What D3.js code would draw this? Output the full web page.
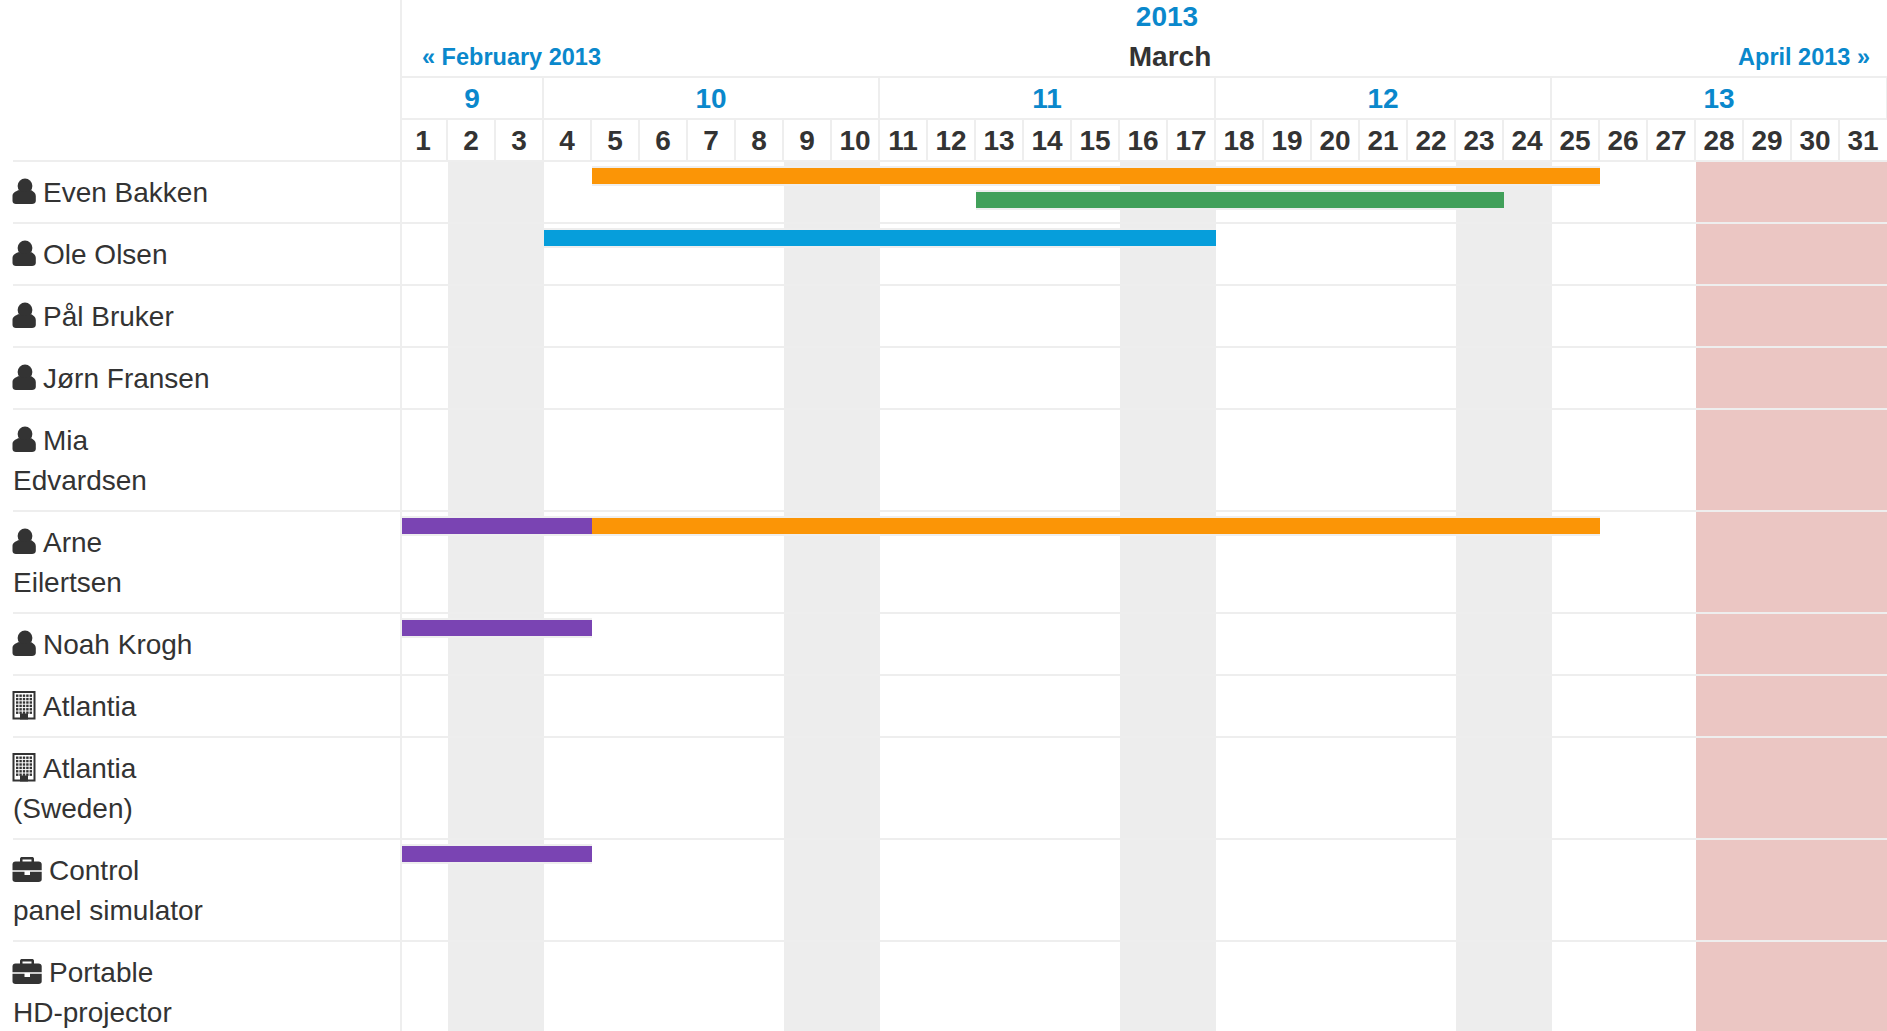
<!DOCTYPE html>
<html>
<head>
<meta charset="utf-8">
<title>Resource calendar</title>
<script src="https://cdn.jsdelivr.net/npm/d3@7"></script>
<style>
	html, body { margin: 0; padding: 0; background: #fff; overflow: hidden; }
	svg { display: block; }
	text { font-family: "Liberation Sans", Helvetica, Arial, sans-serif; fill: #333; }
	.bold { font-weight: bold; }
	.link { fill: #0a88cc; font-weight: bold; }
	.dayaxis text { font-size: 28px; font-weight: bold; font-family: "Liberation Sans", Arial, sans-serif; fill: #333; }
</style>
</head>
<body>
<svg id="chart"></svg>
<script>
// calendar
const year = '2013';
const monthName = 'March';
const prevMonth = '« February 2013';
const nextMonth = 'April 2013 »';
const days = d3.range(1, 32);
const weekNumbers = [9, 10, 11, 12, 13];
const weekFirstDay = [1, 4, 11, 18, 25];
const weekLastDay = [3, 10, 17, 24, 31];
const weekendDays = [2, 3, 9, 10, 16, 17, 23, 24];
const holidayDays = [28, 29, 30, 31];

// resources, one entry per row
const rowIcons = ['user', 'user', 'user', 'user', 'user', 'user', 'user', 'building', 'building', 'briefcase', 'briefcase'];
const rowLine1 = ['Even Bakken', 'Ole Olsen', 'Pål Bruker', 'Jørn Fransen', 'Mia', 'Arne', 'Noah Krogh', 'Atlantia', 'Atlantia', 'Control', 'Portable'];
const rowLine2 = ['', '', '', '', 'Edvardsen', 'Eilertsen', '', '', '(Sweden)', 'panel simulator', 'HD-projector'];

// bookings
const bookingRow = [0, 0, 1, 5, 5, 6, 9];
const bookingLane = [0, 1, 0, 0, 0, 0, 0];
const bookingStart = [5, 13, 4, 1, 5, 1, 1];
const bookingEnd = [25, 23, 17, 4, 25, 4, 4];
const bookingType = ['orange', 'green', 'blue', 'purple', 'orange', 'purple', 'purple'];

const width = 1887,
	height = 1031,
	headerBottom = 161,
	gridLeft = 400,
	labelLeft = 13,
	line = '#eeeeee';

const colour = d3.scaleOrdinal()
	.domain(['orange', 'green', 'blue', 'purple'])
	.range(['#fb9506', '#41a05a', '#069edb', '#7a44b3']);

const x = d3.scaleBand()
	.domain(days)
	.range([gridLeft, gridLeft + 48 * days.length]);

const rowTops = [headerBottom];
rowLine2.forEach((d, i) => rowTops.push(rowTops[i] + (d ? 102 : 62)));

const chart = d3.select('#chart').attr('width', width).attr('height', height);

// holiday and weekend columns
chart.append('g').selectAll('rect')
	.data(holidayDays)
	.enter().append('rect')
	.attr('x', d => x(d))
	.attr('y', headerBottom)
	.attr('width', x.bandwidth())
	.attr('height', height - headerBottom)
	.style('fill', '#ebc6c3');

chart.append('g').selectAll('rect')
	.data(weekendDays)
	.enter().append('rect')
	.attr('x', d => x(d))
	.attr('y', headerBottom)
	.attr('width', x.bandwidth())
	.attr('height', height - headerBottom)
	.style('fill', '#ededed');

// row lines
chart.append('g').selectAll('rect')
	.data(rowTops)
	.enter().append('rect')
	.attr('x', labelLeft)
	.attr('y', d => d - 1)
	.attr('width', width - labelLeft)
	.attr('height', 2)
	.style('fill', line);

// bars, with the 2px light edge above and below
const bars = chart.append('g').selectAll('g')
	.data(bookingRow.map((row, i) => i))
	.enter().append('g');

bars.append('rect')
	.attr('x', i => x(bookingStart[i]))
	.attr('y', i => rowTops[bookingRow[i]] + 5 + bookingLane[i] * 24)
	.attr('width', i => x(bookingEnd[i]) + x.bandwidth() - x(bookingStart[i]))
	.attr('height', 20)
	.style('fill', line);

bars.append('rect')
	.attr('x', i => x(bookingStart[i]))
	.attr('y', i => rowTops[bookingRow[i]] + 7 + bookingLane[i] * 24)
	.attr('width', i => x(bookingEnd[i]) + x.bandwidth() - x(bookingStart[i]))
	.attr('height', 16)
	.style('fill', i => colour(bookingType[i]));

// grid left edge
chart.append('rect')
	.attr('x', gridLeft)
	.attr('y', 0)
	.attr('width', 2)
	.attr('height', height)
	.style('fill', line);

// header rules
chart.append('g').selectAll('rect')
	.data([76, 118])
	.enter().append('rect')
	.attr('x', gridLeft)
	.attr('y', d => d)
	.attr('width', width - gridLeft)
	.attr('height', 2)
	.style('fill', line);

chart.append('g').selectAll('rect')
	.data(days.slice(1))
	.enter().append('rect')
	.attr('x', d => x(d) - 2)
	.attr('y', 120)
	.attr('width', 2)
	.attr('height', 40)
	.style('fill', line);

chart.append('g').selectAll('rect')
	.data(weekLastDay)
	.enter().append('rect')
	.attr('x', d => x(d) + x.bandwidth() - 2)
	.attr('y', 78)
	.attr('width', 2)
	.attr('height', 40)
	.style('fill', line);

// header text
chart.append('text')
	.attr('class', 'link')
	.attr('x', 1167)
	.attr('y', 26)
	.attr('text-anchor', 'middle')
	.style('font-size', '28px')
	.text(year);

chart.append('text')
	.attr('class', 'bold')
	.attr('x', 1170)
	.attr('y', 66)
	.attr('text-anchor', 'middle')
	.style('font-size', '28px')
	.text(monthName);

chart.append('text')
	.attr('class', 'link')
	.attr('x', 422)
	.attr('y', 65)
	.style('font-size', '23.5px')
	.text(prevMonth);

chart.append('text')
	.attr('class', 'link')
	.attr('x', 1870)
	.attr('y', 65)
	.attr('text-anchor', 'end')
	.style('font-size', '23.5px')
	.text(nextMonth);

chart.append('g').selectAll('text')
	.data(weekNumbers)
	.enter().append('text')
	.attr('class', 'link')
	.attr('x', (d, i) => (x(weekFirstDay[i]) + x(weekLastDay[i]) + x.bandwidth() - 2 + (i ? 0 : 2)) / 2)
	.attr('y', 108)
	.attr('text-anchor', 'middle')
	.style('font-size', '28px')
	.text(d => d);

// day numbers
const dayAxis = d3.axisTop(x).tickSize(0).tickPadding(0).offset(0);
chart.append('g')
	.attr('class', 'dayaxis')
	.attr('transform', 'translate(-1, 150)')
	.call(dayAxis)
	.call(g => g.select('.domain').remove());

// row icons, drawn around the text baseline
function drawUser(g) {
	g.append('circle').attr('cx', 25).attr('cy', -16).attr('r', 7.4).style('fill', '#333');
	g.append('path')
		.attr('d', 'M12.5 -1V-6C12.5 -9 15 -10.5 19 -12C21 -9.5 29 -9.5 31 -12C33.5 -10.5 35.8 -9 35.8 -6V-1C35.8 1 34 2 32 2H16C14 2 12.5 1 12.5 -1Z')
		.style('fill', '#333');
}

function drawBuilding(g) {
	g.append('rect').attr('x', 12.5).attr('y', -25).attr('width', 23).attr('height', 28.5).style('fill', '#333');
	g.append('rect').attr('x', 14.5).attr('y', -23).attr('width', 19).attr('height', 24.5).style('fill', '#fff');
	d3.range(6).forEach(r => d3.range(5).forEach(c => {
		g.append('rect')
			.attr('x', 16 + c * 3.4)
			.attr('y', -21.5 + r * 3.4)
			.attr('width', 2.4)
			.attr('height', 2.4)
			.style('fill', '#333');
	}));
	g.append('path').attr('d', 'M20 3.5V-2.5H28V3.5Z').style('fill', '#333');
}

function drawBriefcase(g) {
	g.append('path')
		.attr('d', 'M20 -18V-21C20 -22.5 21 -23 22 -23H32C33 -23 34 -22.5 34 -21V-18H31.5V-20.5H22.5V-18Z')
		.style('fill', '#333');
	g.append('path')
		.attr('d', 'M12.5 -9.8V-15.5C12.5 -17.5 13.5 -18.5 15.5 -18.5H38.5C40.5 -18.5 41.7 -17.5 41.7 -15.5V-9.8Z')
		.style('fill', '#333');
	g.append('path')
		.attr('d', 'M12.5 -8.2H24.5V-5H30V-8.2H41.7V-0.5C41.7 1 40.5 2 38.5 2H15.5C13.5 2 12.5 1 12.5 -0.5Z')
		.style('fill', '#333');
	g.append('rect').attr('x', 25.5).attr('y', -8.5).attr('width', 3.4).attr('height', 2.4).style('fill', '#fff');
}

const icons = { user: drawUser, building: drawBuilding, briefcase: drawBriefcase };

const rows = chart.append('g').selectAll('g')
	.data(rowLine1)
	.enter().append('g')
	.attr('transform', (d, i) => `translate(0, ${rowTops[i] + 41})`);

rows.each(function(d, i) {
	icons[rowIcons[i]](d3.select(this));
});

rows.append('text')
	.attr('x', (d, i) => rowIcons[i] === 'briefcase' ? 49 : 43)
	.style('font-size', '28px')
	.text(d => d);

rows.append('text')
	.attr('x', labelLeft)
	.attr('y', 40)
	.style('font-size', '28px')
	.text((d, i) => rowLine2[i]);
</script>
</body>
</html>
